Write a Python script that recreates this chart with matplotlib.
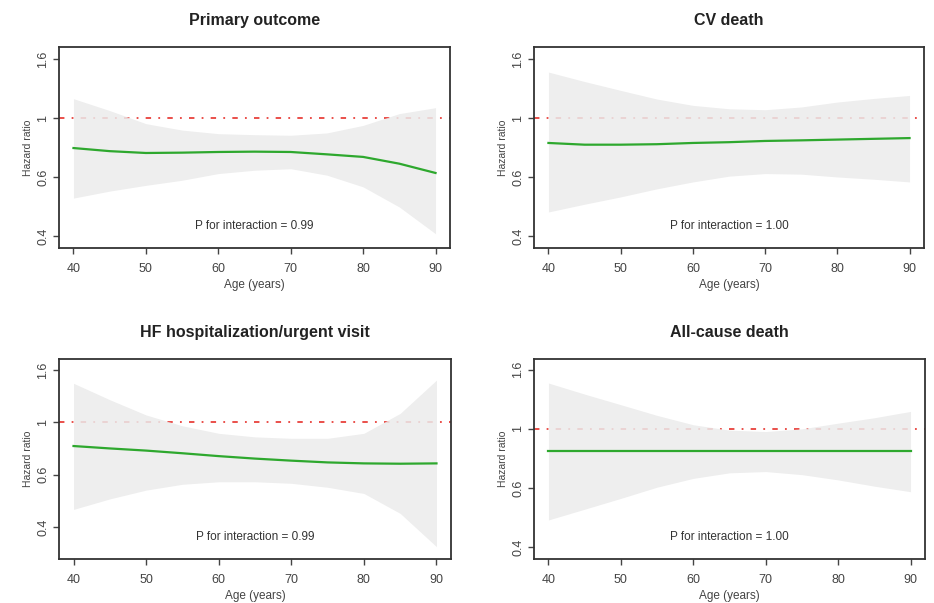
import numpy as np
import matplotlib
matplotlib.use("Agg")
import matplotlib.pyplot as plt

plt.rcParams['font.family'] = ['Liberation Sans', 'DejaVu Sans']

age = [40, 45, 50, 55, 60, 65, 70, 75, 80, 85, 90]

titles = ["Primary outcome", "CV death",
          "HF hospitalization/urgent visit", "All-cause death"]
p_labels = ["P for interaction = 0.99", "P for interaction = 1.00",
            "P for interaction = 0.99", "P for interaction = 1.00"]

primary_hr = [0.791, 0.772, 0.761, 0.763, 0.767, 0.769, 0.767, 0.753, 0.738, 0.700, 0.651]
primary_hi = [1.163, 1.060, 0.957, 0.910, 0.885, 0.878, 0.874, 0.890, 0.944, 1.035, 1.084]
primary_lo = [0.535, 0.565, 0.591, 0.615, 0.648, 0.665, 0.673, 0.640, 0.584, 0.499, 0.405]

cv_hr = [0.823, 0.812, 0.812, 0.815, 0.823, 0.828, 0.836, 0.840, 0.845, 0.850, 0.855]
cv_hi = [1.432, 1.330, 1.241, 1.160, 1.104, 1.075, 1.067, 1.090, 1.133, 1.165, 1.193]
cv_lo = [0.480, 0.510, 0.540, 0.575, 0.607, 0.635, 0.648, 0.645, 0.631, 0.620, 0.607]

hf_hr = [0.812, 0.795, 0.780, 0.762, 0.743, 0.727, 0.714, 0.703, 0.697, 0.695, 0.697]
hf_hi = [1.410, 1.220, 1.067, 0.970, 0.908, 0.880, 0.869, 0.869, 0.908, 1.082, 1.450]
hf_lo = [0.465, 0.510, 0.551, 0.580, 0.593, 0.593, 0.585, 0.565, 0.535, 0.449, 0.335]

acd_hr = [0.842, 0.842, 0.842, 0.842, 0.842, 0.842, 0.842, 0.842, 0.842, 0.842, 0.842]
acd_hi = [1.428, 1.310, 1.206, 1.110, 1.032, 0.990, 0.979, 1.000, 1.045, 1.090, 1.145]
acd_lo = [0.492, 0.535, 0.582, 0.635, 0.680, 0.710, 0.717, 0.700, 0.672, 0.640, 0.613]

series = [(primary_hr, primary_lo, primary_hi),
          (cv_hr, cv_lo, cv_hi),
          (hf_hr, hf_lo, hf_hi),
          (acd_hr, acd_lo, acd_hi)]

ytick_vals = [10 ** -0.4, 10 ** -0.2, 1.0, 10 ** 0.2]
ytick_labels = ["0.4", "0.6", "1", "1.6"]
xticks = [40, 50, 60, 70, 80, 90]

# axes boxes in pixels (left, top, right, bottom)
W, H = 934, 603
boxes = [(59, 47, 450, 248), (534, 47, 924, 248),
         (59, 359, 451, 559), (534, 359, 925, 559)]
ylims = [(-0.441, 0.241), (-0.441, 0.241), (-0.522, 0.242), (-0.44, 0.236)]

fig = plt.figure(figsize=(W / 100, H / 100), dpi=100)

for i in range(4):
    l, t, r, b = boxes[i]
    ax = fig.add_axes([l / W, (H - b) / H, (r - l) / W, (b - t) / H])
    hr, lo, hi = series[i]

    ax.axhline(1.0, color="#e8413c", lw=1.3, ls=(0, (3, 4, 1, 4)), zorder=1)
    ax.fill_between(age, lo, hi, color="#ebebeb", alpha=0.85, lw=0, zorder=2)
    ax.plot(age, hr, color="#2ea82e", lw=1.6, zorder=3)

    ax.set_yscale("log")
    ax.set_ylim(10 ** ylims[i][0], 10 ** ylims[i][1])
    ax.set_xlim(38, 92)
    ax.yaxis.set_minor_locator(matplotlib.ticker.NullLocator())
    ax.set_yticks(ytick_vals)
    ax.set_yticklabels(ytick_labels, rotation=90, va="center")
    ax.set_xticks(xticks)

    ax.tick_params(direction="out", length=4, width=1, colors="#444444",
                   labelsize=9, pad=3)
    ax.tick_params(axis="x", pad=7)
    for s in ax.spines.values():
        s.set_linewidth(1.3)
        s.set_color("#333333")

    ax.set_xlabel("Age (years)", fontsize=8.5, color="#444444", labelpad=3)
    ax.set_ylabel("Hazard ratio", fontsize=7.5, color="#444444", labelpad=3)
    ax.set_title(titles[i], fontsize=11.5, fontweight="bold", color="#222222", pad=16)
    ax.text(0.5, 0.11, p_labels[i], transform=ax.transAxes, ha="center",
            va="center", fontsize=8.5, color="#333333")

fig.savefig("out.png", dpi=100)
